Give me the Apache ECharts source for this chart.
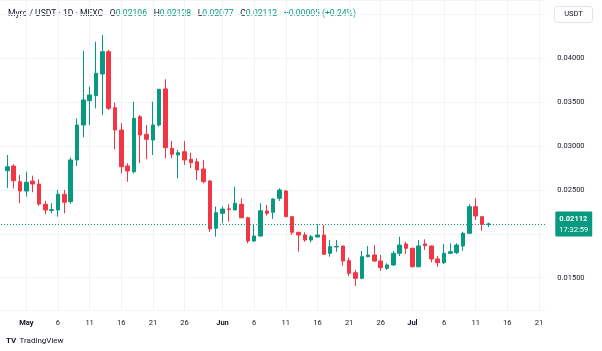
<!DOCTYPE html>
<html>
<head>
<meta charset="utf-8">
<script src="https://cdn.jsdelivr.net/npm/echarts@6/dist/echarts.min.js"></script>
<style>
html,body{margin:0;padding:0;background:#fff}
#chart{width:602px;height:351px}
</style>
</head>
<body>
<div id="chart"></div>
<script>
// Myro / USDT, 1D, MEXC — daily candles 28 Apr .. 13 Jul
let opens = [0.02719,0.02772,0.02593,0.02487,0.02601,0.02567,0.02336,0.02265,0.02271,0.02450,
  0.02366,0.02841,0.03239,0.03516,0.03573,0.03820,0.04074,0.03436,0.03182,0.02772,
  0.02707,0.03334,0.03133,0.03068,0.03239,0.03650,0.02974,0.02898,0.02935,0.02849,
  0.02821,0.02738,0.02601,0.02063,0.02233,0.02284,0.02271,0.02336,0.02183,0.01918,
  0.01975,0.02260,0.02245,0.02404,0.02488,0.02195,0.02017,0.01986,0.01929,0.01964,
  0.01986,0.01778,0.01850,0.01860,0.01694,0.01557,0.01493,0.01739,0.01758,0.01690,
  0.01607,0.01645,0.01778,0.01884,0.01835,0.01625,0.01884,0.01861,0.01713,0.01671,
  0.01778,0.01785,0.01861,0.02006,0.02309,0.02195,0.02106]
let highs = [0.02898,0.02792,0.02670,0.02707,0.02662,0.02621,0.02374,0.02347,0.02499,0.02499,
  0.02871,0.03315,0.04086,0.03675,0.04188,0.04264,0.04093,0.03493,0.03259,0.02803,
  0.03505,0.03353,0.03239,0.03505,0.03650,0.03760,0.03057,0.02955,0.03057,0.02924,
  0.02860,0.02840,0.02615,0.02309,0.02309,0.02336,0.02537,0.02404,0.02195,0.02108,
  0.02347,0.02328,0.02405,0.02518,0.02499,0.02200,0.02020,0.02017,0.01986,0.02108,
  0.02100,0.01929,0.01929,0.01865,0.01728,0.01588,0.01804,0.01860,0.01872,0.01758,
  0.01664,0.01804,0.01967,0.01910,0.01840,0.01929,0.01937,0.01865,0.01747,0.01884,
  0.01892,0.01892,0.02024,0.02339,0.02404,0.02200,0.02128]
let lows = [0.02522,0.02518,0.02347,0.02423,0.02473,0.02317,0.02222,0.02233,0.02195,0.02233,
  0.02340,0.02772,0.03099,0.03239,0.03429,0.03353,0.03410,0.02962,0.02689,0.02593,
  0.02689,0.02803,0.02849,0.02898,0.03220,0.02860,0.02860,0.02632,0.02784,0.02746,
  0.02613,0.02575,0.02020,0.01967,0.02120,0.02138,0.02271,0.02177,0.01892,0.01910,
  0.01967,0.02206,0.02169,0.02374,0.02190,0.01986,0.01796,0.01910,0.01903,0.01960,
  0.01759,0.01739,0.01796,0.01637,0.01519,0.01405,0.01482,0.01732,0.01682,0.01576,
  0.01588,0.01633,0.01747,0.01770,0.01618,0.01618,0.01816,0.01675,0.01625,0.01656,
  0.01770,0.01770,0.01807,0.02006,0.02157,0.02035,0.02077]
let closes = [0.02764,0.02605,0.02487,0.02587,0.02567,0.02339,0.02271,0.02275,0.02450,0.02359,
  0.02841,0.03239,0.03524,0.03581,0.03828,0.04074,0.03429,0.03182,0.02764,0.02715,
  0.03315,0.03125,0.03076,0.03239,0.03646,0.02981,0.02906,0.02924,0.02841,0.02810,
  0.02727,0.02594,0.02055,0.02240,0.02282,0.02278,0.02347,0.02183,0.01918,0.01975,
  0.02263,0.02233,0.02396,0.02499,0.02195,0.02017,0.01986,0.01929,0.01967,0.01986,
  0.01767,0.01853,0.01856,0.01690,0.01550,0.01493,0.01739,0.01758,0.01690,0.01614,
  0.01645,0.01778,0.01872,0.01835,0.01625,0.01861,0.01865,0.01713,0.01671,0.01778,
  0.01796,0.01872,0.02006,0.02309,0.02203,0.02107,0.02112]

// time axis runs from one empty day before the first candle to 22 Jul
let axisStart = '2024-04-27'
let axisEnd = '2024-07-22'
let tickDays = [1, 6, 11, 16, 21, 26]
let monthNames = {'05': 'May', '06': 'Jun', '07': 'Jul'}
let changeText = '+0.00005 (+0.24%)'
let countdownText = '17:32:59'

let up = '#089981'
let down = '#F23645'
let gridColor = '#f0f3fa'
let textColor = '#131722'

let axisDates = []
for (let d = new Date(axisStart + 'T00:00:00Z'); d <= new Date(axisEnd + 'T00:00:00Z'); d.setUTCDate(d.getUTCDate() + 1)) {
  axisDates.push(d.toISOString().slice(0, 10))
}
let candleDates = axisDates.slice(1, 1 + opens.length)

let candles = candleDates.map((day, i) => [day, opens[i], closes[i], lows[i], highs[i]])

let last = opens.length - 1
let fmt = v => v.toFixed(5)

function isTickDay(value) {
  return tickDays.indexOf(+value.slice(8)) >= 0
}

let myChart = echarts.init(document.getElementById('chart'))
let option = {
  animation: false,
  backgroundColor: '#fff',
  grid: {left: 1, right: 56.7, top: 0, bottom: 41, outerBoundsMode: 'none'},
  xAxis: {
    type: 'category',
    data: axisDates,
    boundaryGap: false,
    axisLine: {show: false},
    axisTick: {show: false},
    axisLabel: {
      interval: (i, v) => isTickDay(v),
      formatter: v => +v.slice(8) === 1 ? '{m|' + monthNames[v.slice(5, 7)] + '}' : String(+v.slice(8)),
      color: textColor,
      fontSize: 7.5,
      fontFamily: 'Roboto',
      margin: 9,
      rich: {m: {fontSize: 7.5, fontWeight: 'bold', color: textColor, fontFamily: 'Roboto'}}
    },
    splitLine: {show: true, interval: (i, v) => isTickDay(v), lineStyle: {color: gridColor, width: 1}}
  },
  yAxis: {
    type: 'value',
    position: 'right',
    min: 0.01132,
    max: 0.04663,
    splitNumber: 7,
    axisLine: {show: false},
    axisTick: {show: false},
    axisLabel: {
      showMinLabel: false,
      showMaxLabel: false,
      margin: 12,
      color: textColor,
      fontSize: 7.5,
      fontFamily: 'Roboto',
      // 0.02000 sits under the price tag, 0.04500 under the USDT button
      formatter: v => (Math.abs(v - 0.02) < 1e-6 || v > 0.0449) ? '' : fmt(v)
    },
    splitLine: {lineStyle: {color: gridColor, width: 1}}
  },
  series: [{
    type: 'candlestick',
    data: candles,
    encode: {x: 0, y: [1, 2, 3, 4]},
    barWidth: 4,
    itemStyle: {color: up, color0: down, borderColor: up, borderColor0: down, borderWidth: 1},
    markLine: {
      symbol: 'none',
      silent: true,
      precision: 5,
      data: [{yAxis: closes[last]}],
      lineStyle: {color: up, type: [1, 2], width: 1},
      label: {
        position: 'end',
        distance: 10,
        formatter: '{p|' + fmt(closes[last]) + '}\n{t|' + countdownText + '}',
        backgroundColor: up,
        padding: [2, 4, 1, 4],
        borderRadius: 1,
        rich: {
          p: {color: '#fff', fontSize: 7.5, fontWeight: 'bold', fontFamily: 'Roboto', lineHeight: 11},
          t: {color: '#fff', fontSize: 7.5, fontFamily: 'Roboto', lineHeight: 11}
        }
      }
    }
  }],
  graphic: [
    {
      type: 'text', left: 8, top: 8,
      style: {
        text: '{s|Myro / USDT · 1D · MEXC}  {k|O}{v|' + fmt(opens[last]) + '}  {k|H}{v|' + fmt(highs[last]) +
          '}  {k|L}{v|' + fmt(lows[last]) + '}  {k|C}{v|' + fmt(closes[last]) + '}  {v|' + changeText + '}',
        rich: {
          s: {fill: textColor, fontSize: 8.6, fontFamily: 'Roboto'},
          k: {fill: textColor, fontSize: 8.6, fontFamily: 'Roboto'},
          v: {fill: up, fontSize: 8.6, fontFamily: 'Roboto'}
        }
      }
    },
    {
      type: 'group', right: 9, top: 6,
      children: [
        {type: 'rect', shape: {x: 0, y: 0, width: 38, height: 16, r: 3},
          style: {fill: '#fff', stroke: '#e0e3eb', lineWidth: 1}},
        {type: 'text', x: 19, y: 8,
          style: {text: 'USDT', fill: textColor, fontSize: 7.5, fontFamily: 'Roboto', align: 'center', verticalAlign: 'middle'}}
      ]
    },
    {
      type: 'text', left: 6, top: 335,
      style: {
        text: '{l|TV} {n|TradingView}',
        rich: {
          l: {fill: textColor, fontSize: 8, fontWeight: 'bold', fontFamily: 'Roboto'},
          n: {fill: textColor, fontSize: 8, fontFamily: 'Roboto'}
        }
      }
    }
  ]
}
myChart.setOption(option)
</script>
</body>
</html>
